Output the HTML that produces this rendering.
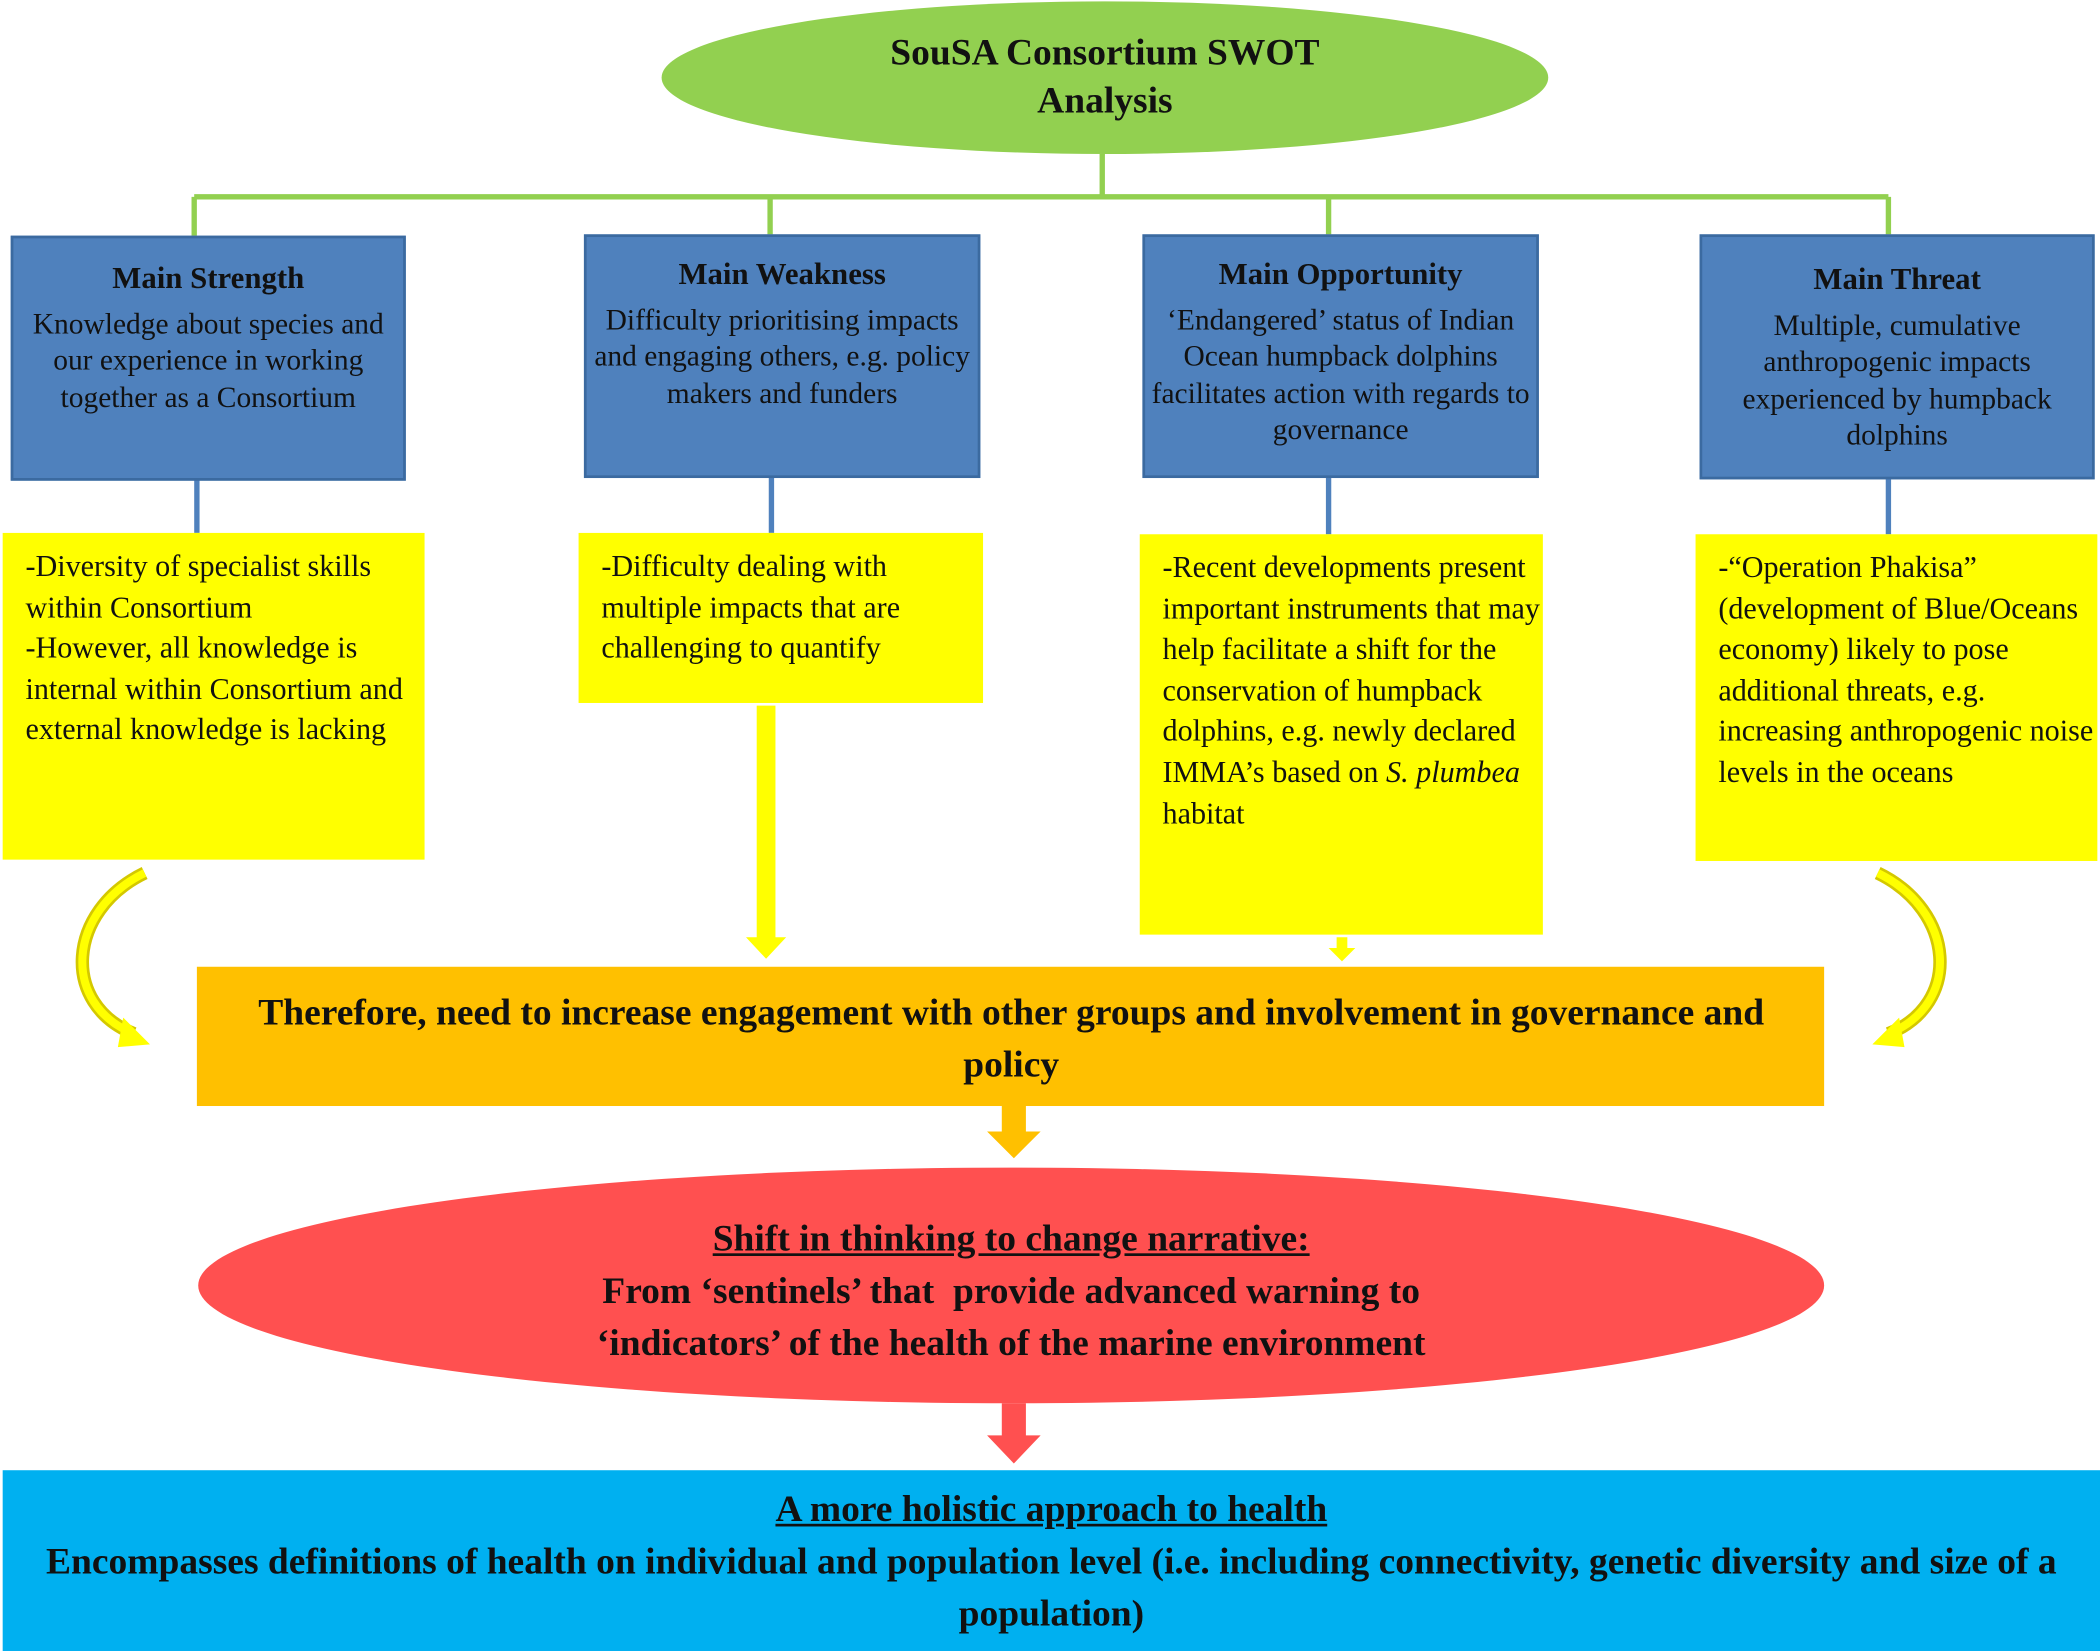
<!DOCTYPE html>
<html><head><meta charset="utf-8"><style>
html,body{margin:0;padding:0;background:#fff;}
body{width:2100px;height:1651px;overflow:hidden;}
#w{position:relative;width:1568px;height:1233px;transform:scale(1.3393,1.339);transform-origin:0 0;font-family:"Liberation Serif",serif;}
.a{position:absolute;box-sizing:border-box;}
.blue{background:#4f81bd;border:2px solid #3b6aa0;text-align:center;color:#111;font-size:22px;line-height:27.5px;padding-top:16px;}
.blue b{display:block;margin-bottom:6px;font-size:23px;}
.yel{background:#ffff00;font-size:22.5px;line-height:30.6px;padding:10px 0 0 17px;color:#111;}
.c{text-align:center;font-weight:bold;color:#111;}
</style></head><body><div id="w">
<svg class="a" style="left:0;top:0" width="1568" height="1233">
<ellipse cx="825" cy="58" rx="331" ry="57" fill="#92d050"/>
<g stroke="#92d050" stroke-width="4" fill="none">
<path d="M823 115V147M145 147H1410M145 147V176M575 147V175M992 147V175M1410 147V175"/>
</g>
<g stroke="#4f81bd" stroke-width="4"><path d="M147 358V398M576 356V398M992 356V399M1410 357V399"/></g>
<polygon points="565,527 579,527 579,700 587,700 572,716 557,700 565,700" fill="#ffff00"/>
<polygon points="998,700 1006,700 1006,708 1012,708 1002,718 992,708 998,708" fill="#ffff00"/>
<path d="M108 652 C50 680 45 750 100 772" stroke="#d4c800" stroke-width="10" fill="none"/>
<path d="M108 652 C50 680 45 750 100 772" stroke="#ffff00" stroke-width="6" fill="none"/>
<polygon points="92,760 112,780 88,782" fill="#ffff00"/>
<path d="M1402 652 C1460 680 1465 750 1410 772" stroke="#d4c800" stroke-width="10" fill="none"/>
<path d="M1402 652 C1460 680 1465 750 1410 772" stroke="#ffff00" stroke-width="6" fill="none"/>
<polygon points="1418,760 1398,780 1422,782" fill="#ffff00"/>
<rect x="147" y="722" width="1215" height="104" fill="#ffc000"/>
<polygon points="748,826 766,826 766,845 777,845 757,865 737,845 748,845" fill="#ffc000"/>
<ellipse cx="755" cy="960" rx="607" ry="88" fill="#ff5050"/>
<polygon points="748,1048 766,1048 766,1072 777,1072 757,1093 737,1072 748,1072" fill="#ff5050"/>
<rect x="2" y="1098" width="1566" height="135" fill="#00b0f0"/>
</svg>
<div class="a c" style="left:494px;top:22px;width:662px;font-size:28px;line-height:36px">SouSA Consortium SWOT<br>Analysis</div>
<div class="a blue" style="left:8px;top:176px;width:295px;height:183px"><b>Main Strength</b>Knowledge about species and our experience in working together as a Consortium</div>
<div class="a blue" style="left:436px;top:175px;width:296px;height:182px;padding-top:14px"><b>Main Weakness</b>Difficulty prioritising impacts and engaging others, e.g. policy makers and funders</div>
<div class="a blue" style="left:853px;top:175px;width:296px;height:182px;padding-top:14px"><b>Main Opportunity</b>‘Endangered’ status of Indian Ocean humpback dolphins facilitates action with regards to governance</div>
<div class="a blue" style="left:1269px;top:175px;width:295px;height:183px;padding-top:18px"><b>Main Threat</b>Multiple, cumulative anthropogenic impacts experienced by humpback dolphins</div>
<div class="a yel" style="left:2px;top:398px;width:315px;height:244px">-Diversity of specialist skills within Consortium<br>-However, all knowledge is internal within Consortium and external knowledge is lacking</div>
<div class="a yel" style="left:432px;top:398px;width:302px;height:127px">-Difficulty dealing with multiple impacts that are challenging to quantify</div>
<div class="a yel" style="left:851px;top:399px;width:301px;height:299px">-Recent developments present important instruments that may help facilitate a shift for the conservation of humpback dolphins, e.g. newly declared IMMA’s based on <i>S. plumbea</i> habitat</div>
<div class="a yel" style="left:1266px;top:399px;width:300px;height:244px">-“Operation Phakisa” (development of Blue/Oceans economy) likely to pose additional threats, e.g. increasing anthropogenic noise levels in the oceans</div>
<div class="a c" style="left:160px;top:737px;width:1190px;font-size:28px;line-height:39px">Therefore, need to increase engagement with other groups and involvement in governance and policy</div>
<div class="a c" style="left:250px;top:906px;width:1010px;font-size:28px;line-height:39px"><u>Shift in thinking to change narrative:</u><br>From ‘sentinels’ that&nbsp; provide advanced warning to<br>‘indicators’ of the health of the marine environment</div>
<div class="a c" style="left:30px;top:1108px;width:1510px;font-size:28px;line-height:39px"><u>A more holistic approach to health</u><br>Encompasses definitions of health on individual and population level (i.e. including connectivity, genetic diversity and size of a population)</div>
</div></body></html>
